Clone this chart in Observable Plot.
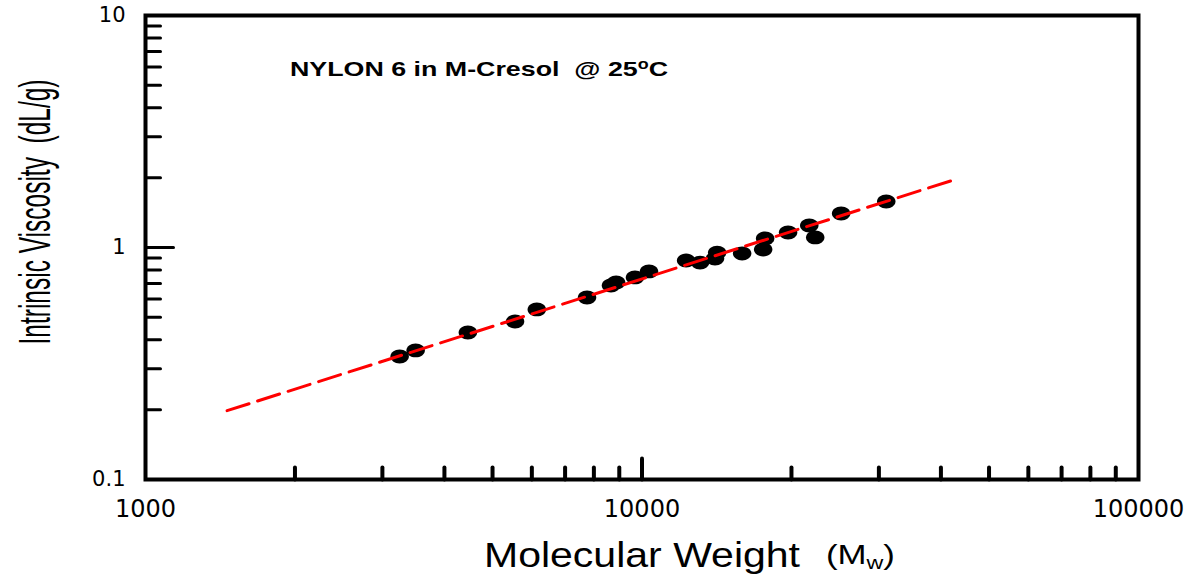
<!DOCTYPE html>
<html>
<head>
<meta charset="utf-8">
<script src="https://cdn.jsdelivr.net/npm/d3@7"></script>
<script src="https://cdn.jsdelivr.net/npm/@observablehq/plot@0.6"></script>
<style>
  html, body { margin: 0; padding: 0; background: #ffffff; }
  #chart svg { display: block; }
</style>
</head>
<body>
<div id="chart"></div>
<script>
// ---- data ----
const molecularWeight = [3250, 3500, 4460, 5550, 6140, 7750, 8660, 8870, 9680, 10330, 12270, 13090, 14030, 14170, 15910, 17540, 17700, 19690, 21720, 22330, 25180, 31040];
const intrinsicViscosity = [0.339, 0.360, 0.430, 0.480, 0.541, 0.609, 0.686, 0.707, 0.743, 0.789, 0.879, 0.861, 0.897, 0.951, 0.942, 0.980, 1.094, 1.161, 1.244, 1.105, 1.402, 1.578];
const fitMw = [1460, 42600];
const fitViscosity = [0.198, 1.96];
const xTickValues = [1000, 10000, 100000];
const xTickLabels = ["1000", "10000", "100000"];
const yTickValues = [0.1, 1, 10];
const yTickLabels = ["0.1", "1", "10"];
const xMinorTicks = [2000, 3000, 4000, 5000, 6000, 7000, 8000, 9000, 20000, 30000, 40000, 50000, 60000, 70000, 80000, 90000];
const xInnerMajorTicks = [10000];
const yMinorTicks = [0.2, 0.3, 0.4, 0.5, 0.6, 0.7, 0.8, 0.9, 2, 3, 4, 5, 6, 7, 8, 9];
const yInnerMajorTicks = [1];
const titleText = "NYLON 6 in M-Cresol  @ 25";
const xLabelText = "Molecular Weight";
const yLabelText = "Intrinsic Viscosity  (dL/g)";

const points = molecularWeight.map((m, i) => ({mw: m, iv: intrinsicViscosity[i]}));
const fitLine = fitMw.map((m, i) => ({mw: m, iv: fitViscosity[i]}));

// ellipse-shaped symbol (markers are wider than tall)
const ellipseSymbol = {
  draw(context, size) {
    const r = Math.sqrt(size / Math.PI);
    const rx = r * 1.2, ry = r * 0.9, k = 0.5523;
    context.moveTo(rx, 0);
    context.bezierCurveTo(rx, k * ry, k * rx, ry, 0, ry);
    context.bezierCurveTo(-k * rx, ry, -rx, k * ry, -rx, 0);
    context.bezierCurveTo(-rx, -k * ry, -k * rx, -ry, 0, -ry);
    context.bezierCurveTo(k * rx, -ry, rx, -k * ry, rx, 0);
    context.closePath();
  }
};
// plain straight tick shape for inward ticks
const tickShape = {
  draw(context, l) { context.moveTo(0, 0); context.lineTo(0, -l); }
};

const plot = Plot.plot({
  width: 1192,
  height: 576,
  marginLeft: 145,
  marginRight: 54,
  marginTop: 15,
  marginBottom: 97,
  style: {background: "#ffffff", color: "#000000", fontFamily: "'DejaVu Sans', sans-serif"},
  x: {type: "log", domain: [1000, 100000], label: null},
  y: {type: "log", domain: [0.1, 10], label: null},
  marks: [
    Plot.dot(points, {x: "mw", y: "iv", r: 7.7, symbol: ellipseSymbol, fill: "#000000", stroke: "none"}),
    Plot.line(fitLine, {x: "mw", y: "iv", stroke: "#ff0000", strokeWidth: 3, strokeDasharray: "23,9"}),
    Plot.vector(xMinorTicks, {x: d => d, frameAnchor: "bottom", anchor: "start", length: 12, shape: tickShape, stroke: "#000000", strokeWidth: 4}),
    Plot.vector(xInnerMajorTicks, {x: d => d, frameAnchor: "bottom", anchor: "start", length: 21, shape: tickShape, stroke: "#000000", strokeWidth: 4}),
    Plot.vector(yMinorTicks, {y: d => d, frameAnchor: "left", anchor: "start", rotate: 90, length: 15, shape: tickShape, stroke: "#000000", strokeWidth: 3}),
    Plot.vector(yInnerMajorTicks, {y: d => d, frameAnchor: "left", anchor: "start", rotate: 90, length: 28, shape: tickShape, stroke: "#000000", strokeWidth: 3}),
    Plot.axisX({ticks: xTickValues, tickFormat: d => xTickLabels[xTickValues.indexOf(d)], tickSize: 0, tickPadding: 20, fontSize: 24, label: null}),
    Plot.axisY({ticks: yTickValues, tickFormat: d => yTickLabels[yTickValues.indexOf(d)], tickSize: 0, tickPadding: 20, fontSize: 21, label: null}),
    Plot.frame({stroke: "#000000", strokeWidth: 4})
  ]
});

document.getElementById("chart").appendChild(plot);

// ---- text annotations (title and axis labels) ----
const svg = d3.select(plot);
const sans = "'Liberation Sans', Arial, Helvetica, sans-serif";

const title = svg.append("text")
  .attr("x", 290).attr("y", 76)
  .attr("text-anchor", "start")
  .attr("font-family", sans).attr("font-weight", "bold").attr("font-size", 21)
  .attr("fill", "#000000")
  .attr("textLength", 378).attr("lengthAdjust", "spacingAndGlyphs")
  .style("white-space", "pre");
title.append("tspan").text(titleText);
title.append("tspan").attr("font-size", 14).attr("dy", -7).text("o");
title.append("tspan").attr("font-size", 21).attr("dy", 7).text("C");

svg.append("text")
  .attr("transform", "translate(50,212) rotate(-90)")
  .attr("text-anchor", "middle")
  .attr("font-family", "'Liberation Sans Narrow', " + sans).attr("font-size", 44)
  .attr("fill", "#000000")
  .attr("textLength", 265).attr("lengthAdjust", "spacingAndGlyphs")
  .style("white-space", "pre")
  .text(yLabelText);

svg.append("text")
  .attr("x", 484).attr("y", 567)
  .attr("text-anchor", "start")
  .attr("font-family", sans).attr("font-size", 35)
  .attr("fill", "#000000")
  .attr("textLength", 316).attr("lengthAdjust", "spacingAndGlyphs")
  .text(xLabelText);

const mw = svg.append("text")
  .attr("x", 826).attr("y", 564)
  .attr("text-anchor", "start")
  .attr("font-family", sans).attr("font-size", 27)
  .attr("fill", "#000000")
  .attr("textLength", 69).attr("lengthAdjust", "spacingAndGlyphs");
mw.append("tspan").text("(M");
mw.append("tspan").attr("font-size", 18).attr("dy", 5).text("w");
mw.append("tspan").attr("font-size", 27).attr("dy", -5).text(")");
</script>
</body>
</html>
